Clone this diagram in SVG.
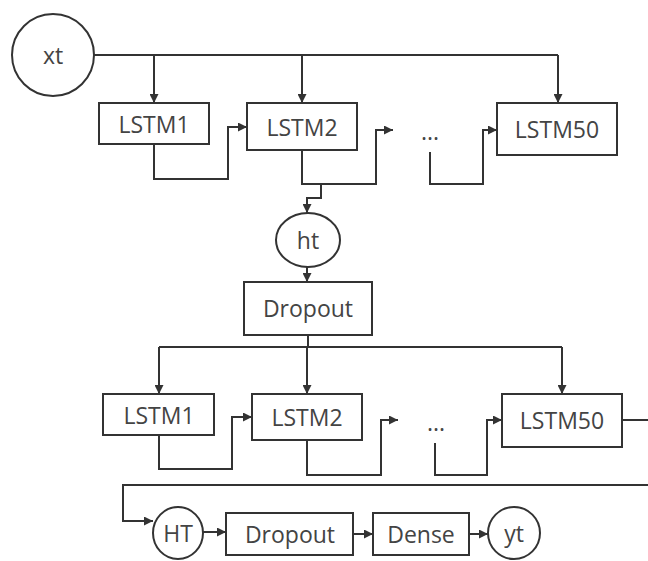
<svg xmlns="http://www.w3.org/2000/svg" width="648" height="561" viewBox="0 0 648 561">
<defs>
<marker id="ah" viewBox="0 0 10 10" refX="10" refY="5" markerWidth="11" markerHeight="9" markerUnits="userSpaceOnUse" orient="auto">
<path d="M0,0 L10,5 L0,10 z" fill="#333"/>
</marker>
</defs>
<style>
.n{fill:#fff;stroke:#333;stroke-width:2}
.t{font-family:"Open Sans","Noto Sans",sans-serif;font-size:23px;fill:#444;text-anchor:middle;dominant-baseline:central}
.c{fill:none;stroke:#333;stroke-width:2}
.a{marker-end:url(#ah)}
</style>
<rect width="648" height="561" fill="#fff"/>
<g id="connectors">
<path class="c" d="M94,55 H558"/>
<path class="c a" d="M154,55 V103"/>
<path class="c a" d="M302,55 V103"/>
<path class="c a" d="M558,55 V103"/>
<path class="c a" d="M154,144 V179 H228 V127 H247"/>
<path class="c a" d="M302,150 V184 H376 V130 H393"/>
<path class="c a" d="M430,152 V184 H483 V130 H497"/>
<path class="c a" d="M321,184 V198 H307 V213"/>
<path class="c a" d="M307,267 V282"/>
<path class="c" d="M308,335 V347 M159,347 H562"/>
<path class="c a" d="M159,347 V394"/>
<path class="c a" d="M307,347 V394"/>
<path class="c a" d="M562,347 V394"/>
<path class="c a" d="M159,435 V469 H232 V417 H252"/>
<path class="c a" d="M307,440 V475 H381 V420 H398"/>
<path class="c a" d="M435,443 V475 H487 V420 H502"/>
<path class="c" d="M622,420 H648"/>
<path class="c a" d="M648,485 H123 V521 H153"/>
<path class="c a" d="M202,532 H226"/>
<path class="c a" d="M353,534 H373"/>
<path class="c a" d="M469,534 H488"/>
</g>
<g id="xt"><circle class="n" cx="53" cy="55" r="41"/><text class="t" x="53" y="55">xt</text></g>
<g id="lstm1a"><rect class="n" x="99" y="103" width="110" height="41"/><text class="t" x="154" y="124">LSTM1</text></g>
<g id="lstm2a"><rect class="n" x="247" y="103" width="110" height="47"/><text class="t" x="302" y="127">LSTM2</text></g>
<g id="dotsa"><text class="t" x="430" y="131">...</text></g>
<g id="lstm50a"><rect class="n" x="497" y="103" width="120" height="52"/><text class="t" x="557" y="129">LSTM50</text></g>
<g id="ht"><ellipse class="n" cx="308" cy="240" rx="32" ry="27"/><text class="t" x="308" y="240">ht</text></g>
<g id="dropout1"><rect class="n" x="244" y="282" width="128" height="53"/><text class="t" x="308" y="308">Dropout</text></g>
<g id="lstm1b"><rect class="n" x="103" y="394" width="111" height="41"/><text class="t" x="159" y="415">LSTM1</text></g>
<g id="lstm2b"><rect class="n" x="252" y="394" width="110" height="46"/><text class="t" x="307" y="417">LSTM2</text></g>
<g id="dotsb"><text class="t" x="436" y="422">...</text></g>
<g id="lstm50b"><rect class="n" x="502" y="394" width="120" height="53"/><text class="t" x="562" y="420">LSTM50</text></g>
<g id="HT"><ellipse class="n" cx="178" cy="533" rx="25" ry="26"/><text class="t" x="178" y="533">HT</text></g>
<g id="dropout2"><rect class="n" x="226" y="513" width="127" height="42"/><text class="t" x="290" y="534">Dropout</text></g>
<g id="dense"><rect class="n" x="373" y="513" width="96" height="42"/><text class="t" x="421" y="534">Dense</text></g>
<g id="yt"><circle class="n" cx="514" cy="533" r="26"/><text class="t" x="514" y="533">yt</text></g>
</svg>
